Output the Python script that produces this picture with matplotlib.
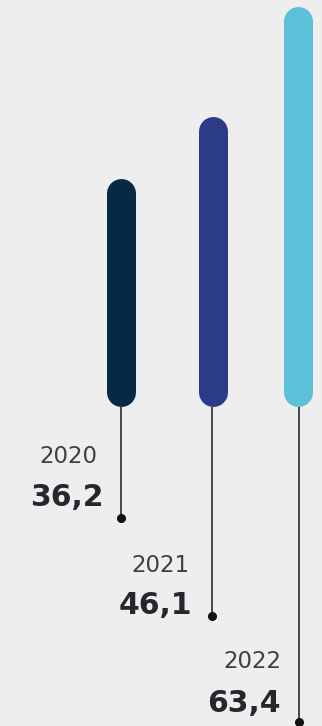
import matplotlib
matplotlib.use("Agg")
import matplotlib.pyplot as plt

years = ["2020", "2021", "2022"]
values = [36.2, 46.1, 63.4]
value_labels = ["36,2", "46,1", "63,4"]
colors = ["#062a43", "#2b3b87", "#5cc0d9"]

W, H, DPI = 322, 726, 100
PX_PER_UNIT = 6.31
BASE_PX = 407

x_pos = [121.5, 213.5, 298.5]
stem_x = [121.5, 212.0, 299.0]
dot_px = [518, 616, 722]
year_right = [97, 189, 281]
val_right = [104, 192, 281]
year_base = [463, 572, 668]
val_base = [506, 614, 712]

bg = "#eeeeee"
fig = plt.figure(figsize=(W / DPI, H / DPI), dpi=DPI, facecolor=bg)
ax = fig.add_axes([0, 0, 1, 1])
ax.set_facecolor(bg)
ax.set_xlim(0, W)
ax.set_ylim((BASE_PX - H) / PX_PER_UNIT, BASE_PX / PX_PER_UNIT)
ax.axis("off")

bar_w_px = 29
lw_pt = bar_w_px * 72 / DPI
cap = (bar_w_px / 2) / PX_PER_UNIT

for i, v in enumerate(values):
    dot_y = (BASE_PX - dot_px[i]) / PX_PER_UNIT
    ax.plot([stem_x[i], stem_x[i]], [0, dot_y], color="#1a1a1a", lw=1.1,
            solid_capstyle="butt", zorder=1)
    ax.plot([stem_x[i]], [dot_y], "o", color="#111111", ms=5.5, zorder=2)
    ax.plot([x_pos[i], x_pos[i]], [cap, v - cap], color=colors[i], lw=lw_pt,
            solid_capstyle="round", zorder=3)
    fig.text(year_right[i] / W, 1 - year_base[i] / H, years[i], ha="right",
             va="baseline", fontsize=16.5, color="#404040",
             family="DejaVu Sans", fontweight="normal")
    fig.text(val_right[i] / W, 1 - val_base[i] / H, value_labels[i], ha="right",
             va="baseline", fontsize=21.5, color="#28252f",
             family="DejaVu Sans", fontweight="bold")

fig.savefig("out.png", dpi=DPI, facecolor=bg)
